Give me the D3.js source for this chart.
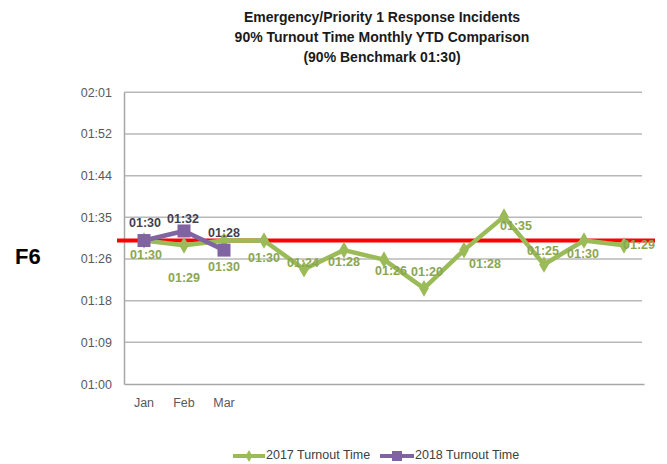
<!DOCTYPE html>
<html>
<head>
<meta charset="utf-8">
<script src="https://cdn.jsdelivr.net/npm/d3@7/dist/d3.min.js"></script>
<style>
  html, body { margin: 0; padding: 0; background: #ffffff; }
  svg { display: block; font-family: "Liberation Sans", Arial, sans-serif; }
</style>
</head>
<body>
<svg id="chart" width="667" height="464"></svg>
<script>
// ---------- data ----------
const titleLines = [
  "Emergency/Priority 1 Response Incidents",
  "90% Turnout Time Monthly YTD Comparison",
  "(90% Benchmark 01:30)"
];
const categoryLabels = ["Jan", "Feb", "Mar", "", "", "", "", "", "", "", "", "", ""];
// turnout times in seconds
const turnout2017 = [90, 89, 90, 90, 84, 88, 86, 80, 88, 95, 85, 90, 89];
const turnout2018 = [90, 92, 88];
const benchmark = 90;
const yMin = 60, yMax = 121;
const yTickLabels = ["01:00", "01:09", "01:18", "01:26", "01:35", "01:44", "01:52", "02:01"];
const seriesNames = ["2017 Turnout Time", "2018 Turnout Time"];
const sideLabel = "F6";

// ---------- layout (label offsets from each point) ----------
const off2017 = [[2,15],[0,33],[0,27],[0,18],[-1,-6],[0,13],[7,12],[3,-16],[21,15],[12,10],[-1,-13],[-1,14],[15,0]];
const off2018 = [[1,-17],[-1,-11],[0,-16]];

const fmt = s => {
  const m = Math.floor(s / 60), sec = Math.round(s - m * 60);
  return String(m).padStart(2, "0") + ":" + String(sec).padStart(2, "0");
};

const svg = d3.select("#chart");
const plotLeft = 124, plotRight = 644, plotTop = 92.3, plotBottom = 384;

const x = d3.scaleBand().domain(d3.range(categoryLabels.length)).range([plotLeft, plotRight]).padding(0);
const y = d3.scaleLinear().domain([yMin, yMax]).range([plotBottom, plotTop]);
const yTicks = d3.range(yTickLabels.length).map(i => yMin + i * (yMax - yMin) / (yTickLabels.length - 1));
const cx = i => x(i) + x.bandwidth() / 2;

const green = "#9bbb59", purple = "#8064a2", red = "#ff0000";

// title
svg.append("g").selectAll("text").data(titleLines).join("text")
  .attr("x", 382).attr("y", (d, i) => 22 + i * 20)
  .attr("text-anchor", "middle").attr("font-weight", "bold").attr("font-size", 14)
  .attr("fill", "#1a1a1a").text(d => d);

// side label
svg.append("text").attr("x", 15).attr("y", 264).attr("font-size", 22).attr("font-weight", "bold")
  .attr("fill", "#000").text(sideLabel);

// gridlines
svg.append("g").selectAll("line").data(yTicks.slice(1)).join("line")
  .attr("x1", plotLeft).attr("x2", plotRight - 2)
  .attr("y1", d => y(d)).attr("y2", d => y(d))
  .attr("stroke", "#b8b8b8").attr("stroke-width", 1.5);

// y axis
const yAxis = d3.axisLeft(y).tickValues(yTicks).tickSize(0).tickPadding(12)
  .tickFormat((d, i) => yTickLabels[i]);
const gy = svg.append("g").attr("transform", `translate(${plotLeft},0)`).call(yAxis);
gy.select(".domain").attr("stroke", "#a6a6a6").attr("stroke-width", 1.5);
gy.selectAll("text").attr("font-size", 12.5).attr("fill", "#595959")
  .attr("font-family", "'Liberation Sans', Arial, sans-serif");

// x axis
const xAxis = d3.axisBottom(x).tickSize(0).tickPadding(14).tickFormat(i => categoryLabels[i]);
const gx = svg.append("g").attr("transform", `translate(0,${plotBottom})`).call(xAxis);
gx.select(".domain").attr("stroke", "#a6a6a6").attr("stroke-width", 1.5);
gx.selectAll("text").attr("font-size", 12.5).attr("fill", "#595959")
  .attr("font-family", "'Liberation Sans', Arial, sans-serif");

// benchmark line
svg.append("line").attr("x1", 117).attr("x2", 655)
  .attr("y1", y(benchmark)).attr("y2", y(benchmark))
  .attr("stroke", red).attr("stroke-width", 4);

const line = d3.line().x((d, i) => cx(i)).y(d => y(d));

// 2017 series
svg.append("path").datum(turnout2017).attr("d", line)
  .attr("fill", "none").attr("stroke", green).attr("stroke-width", 4.5).attr("stroke-linejoin", "round");
svg.append("g").selectAll("path").data(turnout2017).join("path")
  .attr("d", d3.symbol(d3.symbolDiamond, 80))
  .attr("transform", (d, i) => `translate(${cx(i)},${y(d)})`)
  .attr("fill", green);

// 2018 series
svg.append("path").datum(turnout2018).attr("d", line)
  .attr("fill", "none").attr("stroke", purple).attr("stroke-width", 4.5).attr("stroke-linejoin", "round");
svg.append("g").selectAll("rect").data(turnout2018).join("rect")
  .attr("x", (d, i) => cx(i) - 6.5).attr("y", d => y(d) - 6.5)
  .attr("width", 13).attr("height", 13).attr("fill", purple);

// data labels
svg.append("g").selectAll("text").data(turnout2017).join("text")
  .attr("x", (d, i) => cx(i) + off2017[i][0]).attr("y", (d, i) => y(d) + off2017[i][1])
  .attr("text-anchor", "middle").attr("dominant-baseline", "middle")
  .attr("font-size", 12.5).attr("font-weight", "bold").attr("fill", "#8aa64f")
  .text(d => fmt(d));
svg.append("g").selectAll("text").data(turnout2018).join("text")
  .attr("x", (d, i) => cx(i) + off2018[i][0]).attr("y", (d, i) => y(d) + off2018[i][1])
  .attr("text-anchor", "middle").attr("dominant-baseline", "middle")
  .attr("font-size", 12.5).attr("font-weight", "bold").attr("fill", "#3f3f4f")
  .text(d => fmt(d));

// legend
const legend = svg.append("g").attr("transform", "translate(0,456)");
const legItems = [
  {name: seriesNames[0], color: green, x0: 233, x1: 265, tx: 266, shape: "diamond"},
  {name: seriesNames[1], color: purple, x0: 380, x1: 414, tx: 415, shape: "square"}
];
legItems.forEach(it => {
  legend.append("line").attr("x1", it.x0).attr("x2", it.x1).attr("y1", 0).attr("y2", 0)
    .attr("stroke", it.color).attr("stroke-width", 4);
  const mx = (it.x0 + it.x1) / 2;
  if (it.shape === "diamond") {
    legend.append("path").attr("d", d3.symbol(d3.symbolDiamond, 40))
      .attr("transform", `translate(${mx},0)`).attr("fill", it.color);
  } else {
    legend.append("rect").attr("x", mx - 5).attr("y", -5).attr("width", 10).attr("height", 10)
      .attr("fill", it.color);
  }
  legend.append("text").attr("x", it.tx).attr("y", 0).attr("dominant-baseline", "middle")
    .attr("font-size", 12.5).attr("fill", "#404040").text(it.name);
});
</script>
</body>
</html>
